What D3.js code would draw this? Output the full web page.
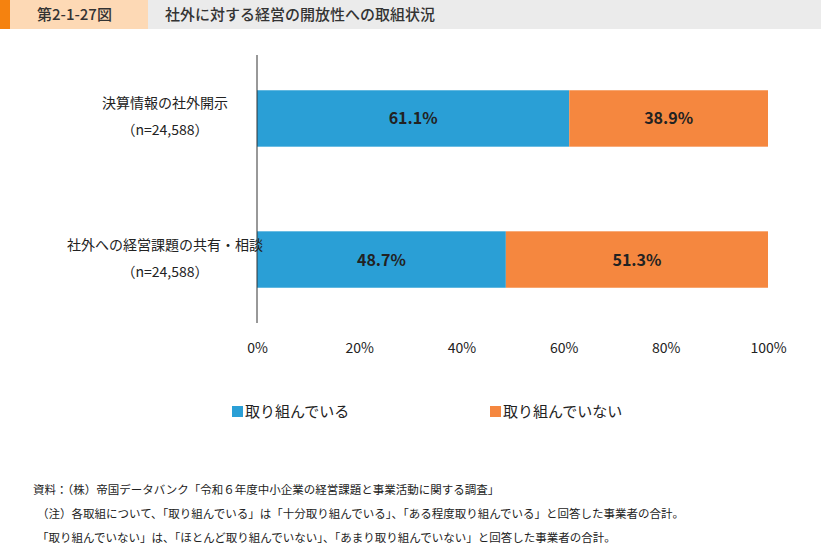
<!DOCTYPE html>
<html><head><meta charset="utf-8">
<script src="https://cdn.jsdelivr.net/npm/d3@7"></script>
<style>body{margin:0;background:#fff;font-family:"Noto Sans CJK JP","Noto Sans",sans-serif}</style>
</head><body><div id="container"></div>
<script>
const categories = ["決算情報の社外開示", "社外への経営課題の共有・相談"];
const sampleLabels = ["（n=24,588）", "（n=24,588）"];
const doing = [61.1, 48.7];
const notDoing = [38.9, 51.3];
const seriesNames = ["取り組んでいる", "取り組んでいない"];
const ticks = [0, 20, 40, 60, 80, 100];
const notes = [
  "資料：（株）帝国データバンク「令和６年度中小企業の経営課題と事業活動に関する調査」",
  "（注）各取組について、「取り組んでいる」は「十分取り組んでいる」、「ある程度取り組んでいる」と回答した事業者の合計。",
  "「取り組んでいない」は、「ほとんど取り組んでいない」、「あまり取り組んでいない」と回答した事業者の合計。"
];
const colors = ["#2a9fd6", "#f5873f"];

const width = 821, height = 547;
const svg = d3.select("#container").append("svg").attr("width", width).attr("height", height);

// header
svg.append("rect").attr("x", 0).attr("y", 0).attr("width", width).attr("height", 29).attr("fill", "#ebebeb");
svg.append("rect").attr("x", 0).attr("y", 0).attr("width", 148).attr("height", 29).attr("fill", "#fdd9b5");
svg.append("rect").attr("x", 0).attr("y", 0).attr("width", 10).attr("height", 29).attr("fill", "#f5820f");
svg.append("text").attr("x", 37).attr("y", 20).attr("font-size", 15).attr("font-weight", 500).attr("fill", "#333").text("第2-1-27図");
svg.append("text").attr("x", 165).attr("y", 20).attr("font-size", 15).attr("font-weight", 500).attr("fill", "#333").text("社外に対する経営の開放性への取組状況");

const x = d3.scaleLinear().domain([0, 100]).range([257, 768]);
const y = d3.scaleBand().domain(categories).range([55, 323]).paddingInner(0.6).paddingOuter(0.25);

const rows = categories.map((c, i) => ({ c, vals: [doing[i], notDoing[i]] }));
rows.forEach(r => {
  let acc = 0;
  r.vals.forEach((v, j) => {
    svg.append("rect").attr("x", x(acc)).attr("y", y(r.c)).attr("width", x(acc + v) - x(acc))
      .attr("height", y.bandwidth()).attr("fill", colors[j]);
    svg.append("text").attr("x", (x(acc) + x(acc + v)) / 2).attr("y", y(r.c) + y.bandwidth() / 2 + 6)
      .attr("text-anchor", "middle").attr("font-size", 16).attr("font-weight", "bold").attr("fill", "#222")
      .text(v.toFixed(1) + "%");
    acc += v;
  });
});

svg.append("line").attr("x1", 257).attr("x2", 257).attr("y1", 55).attr("y2", 323).attr("stroke", "#333");

const xAxis = d3.axisBottom(x).tickValues(ticks).tickSize(0).tickFormat(d => d + "%");
const xg = svg.append("g").attr("transform", "translate(0,340)").call(xAxis);
xg.select(".domain").remove();
xg.selectAll("text").attr("font-size", 14).attr("fill", "#222").attr("font-family", "Noto Sans CJK JP");

categories.forEach((c, i) => {
  const cy = y(c) + y.bandwidth() / 2;
  svg.append("text").attr("x", 165).attr("y", cy - 10).attr("text-anchor", "middle").attr("font-size", 14).attr("fill", "#222").text(c);
  svg.append("text").attr("x", 165).attr("y", cy + 17).attr("text-anchor", "middle").attr("font-size", 14).attr("fill", "#222").text(sampleLabels[i]);
});

// legend
[[232, 0], [490, 1]].forEach(([lx, j]) => {
  svg.append("rect").attr("x", lx).attr("y", 406).attr("width", 11).attr("height", 11).attr("fill", colors[j]);
  svg.append("text").attr("x", lx + 13).attr("y", 417).attr("font-size", 15).attr("fill", "#222").text(seriesNames[j]);
});

notes.forEach((n, i) => {
  svg.append("text").attr("x", i === 0 ? 33 : 37).attr("y", 494 + i * 24).attr("font-size", 11.5).attr("fill", "#222").text(n);
});
</script></body></html>
